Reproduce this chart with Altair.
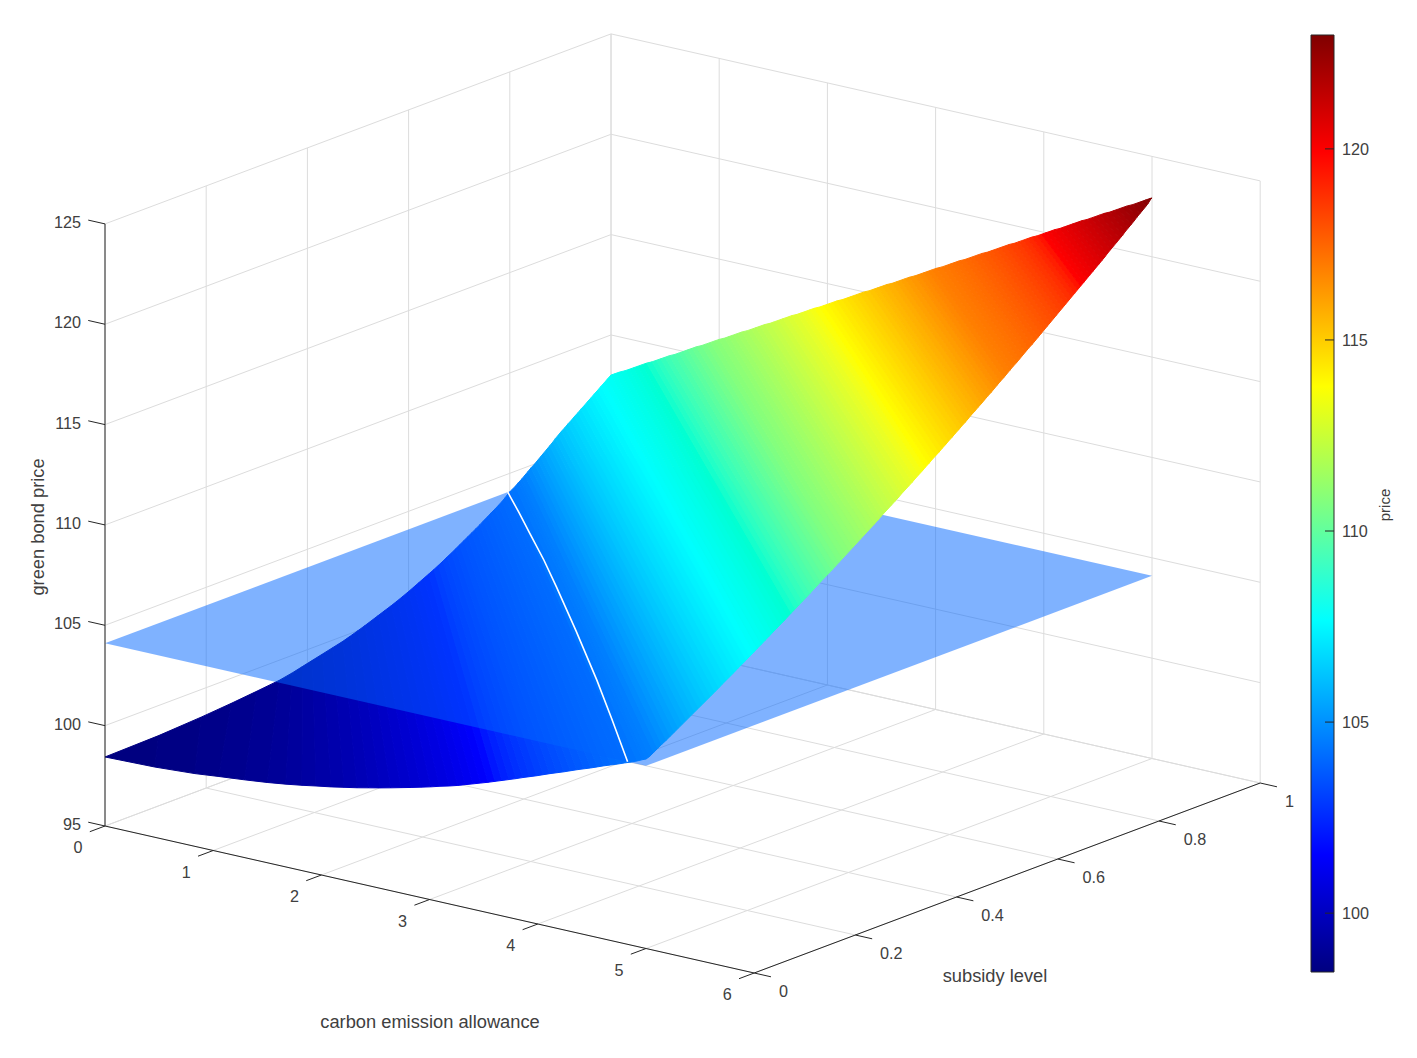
import altair as alt
import pandas as pd

# contour levels of the price surface
LEVELS = [98.44, 98.5, 98.625, 98.75, 98.875,
          99, 99.125, 99.25, 99.375, 99.5, 99.625, 99.75, 99.875,
          100, 100.125, 100.25, 100.375, 100.5, 100.625, 100.75, 100.875,
          101, 101.125, 101.25, 101.375, 101.5, 101.625, 101.75, 101.875,
          102, 102.125, 102.25, 102.375, 102.5, 102.625, 102.75, 102.875,
          103, 103.125, 103.25, 103.375, 103.5, 103.625, 103.75, 103.875,
          104, 104.1, 104.25, 104.375, 104.44,
          104.5, 104.625, 104.75, 104.875,
          105, 105.125, 105.25, 105.375, 105.5, 105.625, 105.75, 105.875,
          106, 106.125, 106.25, 106.375, 106.5, 106.625, 106.75, 106.875,
          107, 107.125, 107.25, 107.375, 107.5, 107.625, 107.75, 107.875,
          108, 108.125, 108.25, 108.375, 108.5, 108.625, 108.75, 108.875,
          109, 109.125, 109.25, 109.375, 109.5, 109.625, 109.75, 109.875,
          110, 110.125, 110.25, 110.375, 110.5, 110.625, 110.75, 110.875,
          111, 111.125, 111.25, 111.375, 111.5, 111.625, 111.75, 111.875,
          112, 112.125, 112.25, 112.375, 112.5, 112.625, 112.75, 112.875,
          113, 113.125, 113.25, 113.375, 113.5, 113.625, 113.75, 113.875,
          114, 114.125, 114.25, 114.375, 114.5, 114.625, 114.75, 114.875,
          115, 115.125, 115.25, 115.375, 115.5, 115.625, 115.75, 115.875,
          116, 116.125, 116.25, 116.375, 116.5, 116.625, 116.75, 116.875,
          117, 117.125, 117.25, 117.375, 117.5, 117.625, 117.75, 117.875,
          118, 118.125, 118.25, 118.375, 118.5, 118.625, 118.75, 118.875,
          119, 119.125, 119.25, 119.375, 119.5, 119.625, 119.75, 119.875,
          120, 120.125, 120.25, 120.375, 120.5, 120.625, 120.75, 120.875,
          121, 121.125, 121.25, 121.375, 121.5, 121.625, 121.75, 121.875,
          122, 122.125, 122.25, 122.375, 122.5, 122.625, 122.75, 122.875,
          122.93]
# where each level meets the rear edges: subsidy on allowance=0, then allowance on subsidy=1
REAR_Y = [0, .106, .19, .25, .30,
          .345, .37, .39, .41, .43, .45, .47, .485,
          .50, .514, .527, .54, .553, .566, .578, .589,
          .60, .61, .62, .63, .64, .65, .659, .668,
          .676, .685, .693, .701, .709, .717, .725, .733,
          .741, .748, .756, .763, .771, .778, .785, .791,
          .796, .801, .811, .817, .821,
          .824, .83, .836, .842,
          .849, .855, .861, .867, .873, .879, .885, .89,
          .896, .902, .909, .915, .922, .928, .935, .941,
          .948, .954, .961, .967, .974, .98, .987, .993]
REAR_X = [0, .04, .08, .13, .17, .21, .25, .29,
          .33, .38, .42, .46, .50, .54, .59, .63,
          .67, .71, .75, .79, .84, .88, .92, .96,
          1.0, 1.05, 1.09, 1.13, 1.17, 1.21, 1.26, 1.30,
          1.34, 1.38, 1.42, 1.47, 1.51, 1.55, 1.59, 1.63,
          1.67, 1.72, 1.76, 1.80, 1.84, 1.88, 1.93, 1.97,
          2.01, 2.05, 2.09, 2.14, 2.18, 2.22, 2.26, 2.30,
          2.34, 2.39, 2.43, 2.47, 2.51, 2.55, 2.60, 2.64,
          2.68, 2.72, 2.76, 2.81, 2.85, 2.89, 2.93, 2.97,
          3.01, 3.06, 3.10, 3.14, 3.18, 3.22, 3.27, 3.31,
          3.35, 3.39, 3.43, 3.48, 3.52, 3.56, 3.60, 3.64,
          3.68, 3.73, 3.77, 3.81, 3.85, 3.89, 3.94, 3.98,
          4.02, 4.06, 4.10, 4.15, 4.19, 4.23, 4.27, 4.31,
          4.35, 4.40, 4.44, 4.48, 4.52, 4.56, 4.61, 4.65,
          4.69, 4.73, 4.77, 4.82, 4.86, 4.90, 4.94, 4.98,
          5]
# where each level meets the front edges: allowance on subsidy=0, then subsidy on allowance=5
FRONT_X = [0, .46, .83, 1.05, 1.29,
           1.50, 1.67, 1.82, 1.95, 2.09, 2.21, 2.33, 2.435,
           2.54, 2.64, 2.735, 2.83, 2.92, 3.01, 3.09, 3.18,
           3.26, 3.33, 3.40, 3.47, 3.54, 3.605, 3.67, 3.735,
           3.80, 3.86, 3.925, 3.99, 4.05, 4.11, 4.175, 4.24,
           4.30, 4.36, 4.425, 4.49, 4.55, 4.61, 4.675, 4.74,
           4.80, 4.85, 4.92, 4.97, 5]
FRONT_Y = [.007, .015, .023, .031,
           .040, .048, .056, .064, .072, .080, .088, .096,
           .104, .112, .120, .128, .136, .144, .151, .159,
           .167, .175, .182, .190, .198, .205, .213, .220,
           .228, .235, .243, .250, .258, .265, .273, .280,
           .287, .295, .302, .309, .317, .324, .331, .338,
           .345, .352, .360, .367, .374, .381, .388, .395,
           .402, .409, .416, .423, .430, .437, .444, .451,
           .458, .464, .471, .478, .485, .492, .499, .505,
           .512, .519, .526, .532, .539, .546, .552, .559,
           .565, .572, .579, .585, .592, .598, .605, .611,
           .618, .624, .631, .637, .643, .650, .656, .663,
           .669, .675, .682, .688, .694, .700, .707, .713,
           .719, .725, .732, .738, .744, .750, .756, .763,
           .769, .775, .781, .787, .793, .799, .805, .811,
           .817, .823, .829, .835, .841, .847, .853, .859,
           .865, .871, .877, .883, .889, .895, .901, .907,
           .912, .918, .924, .930, .936, .942, .947, .953,
           .959, .965, .970, .976, .982, .988, .993, .997,
           1]
PLANE_PRICE = 104.1
PLANE_X = [0, 5, 5, 0]
PLANE_Y = [0, 0, 1, 1]
CROSS_X = [0, .38, .76, 1.25, 1.73, 2.525, 3.40, 4.08, 4.83]
CROSS_Y = [.796, .737, .677, .60, .522, .391, .245, .129, 0]

X_TICKS = [0, 1, 2, 3, 4, 5, 6]
Y_TICKS = [0, .2, .4, .6, .8, 1]
Y_LABELS = ["0", "0.2", "0.4", "0.6", "0.8", "1"]
Z_TICKS = [95, 100, 105, 110, 115, 120, 125]
BAR_TICKS = [100, 105, 110, 115, 120]
PRICE_MIN, PRICE_MAX = 98.46, 122.98
JET = ["#000080", "#0000ff", "#0080ff", "#00ffff", "#80ff80", "#ffff00", "#ff8000", "#ff0000", "#800000"]

FONT = "Liberation Sans"
GRID = "#dcdcdc"
INK = "#262626"
TEXT = "#404040"


def sx(x, y):
    return 105 + 108.2 * x + 506 * y


def sy(x, y, z):
    return 826 + 24.5 * x - 190 * y - 20.07 * (z - 95)


rear = [(0, v) for v in REAR_Y] + [(v, 1) for v in REAR_X]
front = [(v, 0) for v in FRONT_X] + [(5, v) for v in FRONT_Y]

rows = []
for k in range(len(LEVELS) - 1):
    z0, z1 = LEVELS[k], LEVELS[k + 1]
    corners = [(rear[k], z0), (rear[k + 1], z1), (front[k + 1], z1), (front[k], z0)]
    for n, ((x, y), z) in enumerate(corners):
        rows.append({"band": k, "i": n, "sx": sx(x, y), "sy": sy(x, y, z), "price": (z0 + z1) / 2,
                     "low": z1 <= PLANE_PRICE})
bands = pd.DataFrame(rows)

plane = pd.DataFrame([{"i": n, "sx": sx(x, y), "sy": sy(x, y, PLANE_PRICE)}
                      for n, (x, y) in enumerate(zip(PLANE_X, PLANE_Y))])
cross = pd.DataFrame([{"i": n, "sx": sx(x, y), "sy": sy(x, y, PLANE_PRICE)}
                      for n, (x, y) in enumerate(zip(CROSS_X, CROSS_Y))])


def segments(pairs):
    out = []
    for k, (a, b) in enumerate(pairs):
        for n, (x, y, z) in enumerate((a, b)):
            out.append({"seg": k, "i": n, "sx": sx(x, y), "sy": sy(x, y, z)})
    return pd.DataFrame(out)


grid_pairs = []
for v in X_TICKS:
    grid_pairs.append(((v, 0, 95), (v, 1, 95)))
    grid_pairs.append(((v, 1, 95), (v, 1, 125)))
for v in Y_TICKS:
    grid_pairs.append(((0, v, 95), (6, v, 95)))
    grid_pairs.append(((0, v, 95), (0, v, 125)))
for v in Z_TICKS:
    grid_pairs.append(((0, 0, v), (0, 1, v)))
    grid_pairs.append(((0, 1, v), (6, 1, v)))
grid = segments(grid_pairs)

axis_pairs = [((0, 0, 95), (0, 0, 125)), ((0, 0, 95), (6, 0, 95)), ((6, 0, 95), (6, 1, 95))]
axis_pairs += [((v, 0, 95), (v, -.03, 95)) for v in X_TICKS]
axis_pairs += [((6, v, 95), (6.155, v, 95)) for v in Y_TICKS]
axis_pairs += [((0, 0, v), (-.155, 0, v)) for v in Z_TICKS]
axes = segments(axis_pairs)

x_labels = pd.DataFrame({"sx": [sx(v, 0) - 27 for v in X_TICKS], "sy": [sy(v, 0, 95) + 21 for v in X_TICKS],
                         "t": [str(v) for v in X_TICKS]})
y_labels = pd.DataFrame({"sx": [sx(6, v) + 24.7 for v in Y_TICKS], "sy": [sy(6, v, 95) + 17.5 for v in Y_TICKS],
                         "t": Y_LABELS})
z_labels = pd.DataFrame({"sx": [81] * len(Z_TICKS), "sy": [sy(0, 0, v) - 2 for v in Z_TICKS],
                         "t": [str(v) for v in Z_TICKS]})
bar_y = lambda v: 972 - (v - PRICE_MIN) * (972 - 35) / (PRICE_MAX - PRICE_MIN)
bar_ticks = pd.DataFrame([{"seg": v, "i": n, "sx": px, "sy": bar_y(v)} for v in BAR_TICKS
                          for n, px in enumerate((1325, 1334))])
bar_labels = pd.DataFrame({"sx": [1342] * len(BAR_TICKS), "sy": [bar_y(v) for v in BAR_TICKS],
                           "t": [str(v) for v in BAR_TICKS]})
bar = pd.DataFrame({"sx": [1311], "sx2": [1334], "sy": [bar_y(PRICE_MIN)], "sy2": [bar_y(PRICE_MAX)]})
titles = pd.DataFrame({"sx": [430, 995], "sy": [1022, 976], "t": ["carbon emission allowance", "subsidy level"]})

X = alt.X("sx:Q", scale=alt.Scale(domain=[8, 1403], nice=False, zero=False), axis=None)
Y = alt.Y("sy:Q", scale=alt.Scale(domain=[1043, 8], nice=False, zero=False), axis=None)
price_scale = alt.Scale(domain=[PRICE_MIN, PRICE_MAX], range=JET, nice=False, zero=False)


def surface(df):
    return alt.Chart(df).mark_line(interpolate="linear-closed", strokeWidth=1).encode(
        x=X, y=Y, detail="band:N", order="i:Q",
        fill=alt.Fill("price:Q", scale=price_scale, legend=None),
        stroke=alt.Stroke("price:Q", scale=price_scale, legend=None),
    )


def lines(df, color, width):
    return alt.Chart(df).mark_line(color=color, strokeWidth=width).encode(x=X, y=Y, detail="seg:N", order="i:Q")


def labels(df, align, size=16.2, **kw):
    return alt.Chart(df).mark_text(align=align, baseline="middle", font=FONT, fontSize=size, color=TEXT, dy=1,
                                   **kw).encode(x=X, y=Y, text="t:N")


plane_layer = alt.Chart(plane).mark_line(interpolate="linear-closed", fill="#0066ff", fillOpacity=0.5,
                                         strokeOpacity=0).encode(x=X, y=Y, order="i:Q")
cross_layer = alt.Chart(cross).mark_line(color="white", strokeWidth=1.6).encode(x=X, y=Y, order="i:Q")
jet_gradient = alt.LinearGradient(
    gradient="linear", x1=0, x2=0, y1=1, y2=0,
    stops=[alt.GradientStop(offset=n / (len(JET) - 1), color=c) for n, c in enumerate(JET)])
bar_layer = alt.Chart(bar).mark_rect(fill=jet_gradient, stroke=INK, strokeWidth=1).encode(
    x=X, x2="sx2:Q", y=Y, y2="sy2:Q")

chart = alt.layer(
    lines(grid, GRID, 1),
    surface(bands[bands.low]),
    plane_layer,
    surface(bands[~bands.low]),
    cross_layer,
    lines(axes, INK, 1),
    bar_layer,
    lines(bar_ticks, INK, 1),
    labels(bar_labels, "left"),
    labels(x_labels, "center"),
    labels(y_labels, "left"),
    labels(z_labels, "right"),
    labels(titles, "center", 18.3),
    labels(pd.DataFrame({"sx": [38], "sy": [527], "t": ["green bond price"]}), "center", 18.3, angle=270),
    labels(pd.DataFrame({"sx": [1384], "sy": [505], "t": ["price"]}), "center", 15, angle=270),
).properties(width=1395, height=1035, padding=0, autosize=alt.AutoSizeParams(type="none")).configure_view(stroke=None)

chart.save("out.html", embed_options={"renderer": "svg", "actions": False})
